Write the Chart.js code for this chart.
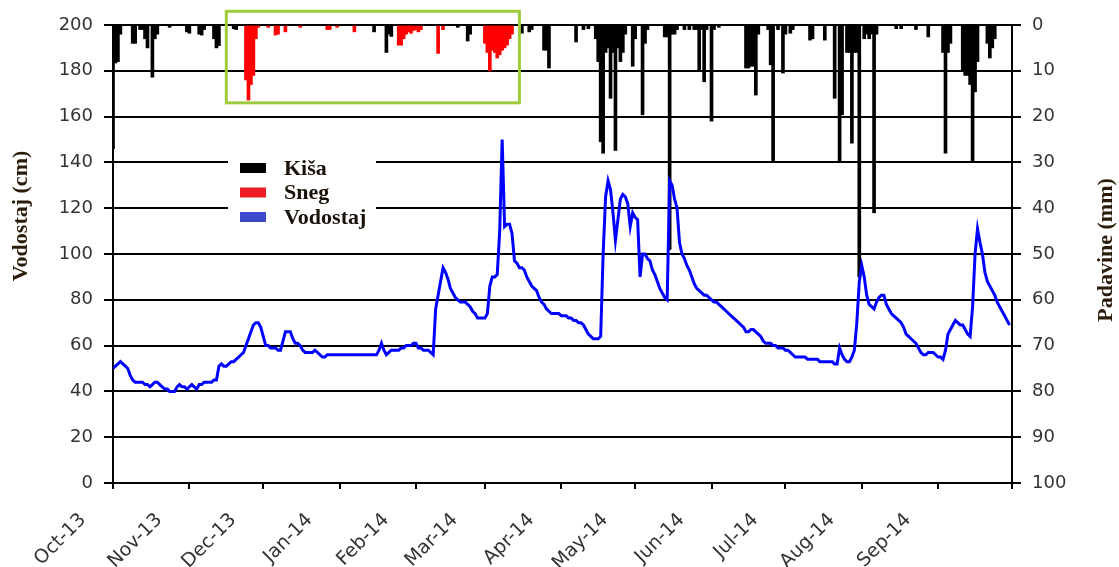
<!DOCTYPE html>
<html>
<head>
<meta charset="utf-8">
<script src="https://cdn.jsdelivr.net/npm/chart.js@4.4.1/dist/chart.umd.min.js"></script>
<style>
  html, body { margin: 0; padding: 0; background: #fff; }
</style>
</head>
<body>
<canvas id="vodostajChart" width="1119" height="567"></canvas>
<script>
// mjeseci (pocetni dan od 1. oktobra 2013)
var monthLabels = ['Oct-13', 'Nov-13', 'Dec-13', 'Jan-14', 'Feb-14', 'Mar-14', 'Apr-14', 'May-14', 'Jun-14', 'Jul-14', 'Aug-14', 'Sep-14'];
var monthStart = [0, 31, 61, 92, 123, 151, 182, 212, 243, 273, 304, 335, 365];

// vodostaj (cm), dnevno od 1.10.2013
var vodostaj = [
  50,51,52,53,52,51,50,47,45,44, 44,44,44,43,43,42,43,44,44,43, 42,41,41,40,40,40,42,43,42,42, 41,
  42,43,42,41,43,43,44,44,44,44, 45,45,51,52,51,51,52,53,53,54, 55,56,57,60,63,66,69,70,70,68,
  64,60,60,59,59,59,58,58,62,66, 66,66,63,61,61,60,58,57,57,57, 57,58,57,56,55,55,56,56,56,56, 56,
  56,56,56,56,56,56,56,56,56,56, 56,56,56,56,56,56,58,61,58,56, 57,58,58,58,58,59,59,60,60,60, 61,
  61,59,59,58,58,58,57,56,76,82, 88,94,92,89,85,83,81,80,79,79, 79,78,77,75,74,72,72,72,
  72,74,86,90,90,91,110,150,112,113, 113,109,97,96,94,94,93,90,88,86, 85,84,81,79,78,76,75,74,74,74, 74,
  73,73,73,72,72,71,71,70,70,69, 67,65,64,63,63,63,64,100,125,132, 128,118,106,115,124,126,125,122,112,118,
  116,115,90,100,100,98,97,93,91,88, 85,83,81,80,132,130,124,120,105,100, 98,95,93,90,87,85,84,83,82,82, 81,
  80,79,79,78,77,76,75,74,73,72, 71,70,69,68,66,66,67,67,66,65, 64,62,61,61,61,60,60,59,59,59,
  58,58,57,56,55,55,55,55,55,54, 54,54,54,54,53,53,53,53,53,53, 52,52,59,56,54,53,53,55,58,70, 88,
  95,90,82,78,77,76,79,81,82,82, 78,76,74,73,72,71,70,68,65,64, 63,62,61,59,57,56,56,57,57,57, 56,
  55,55,54,58,65,67,69,71,70,69, 69,67,65,64,77,100,111,105,100,92, 88,86,84,82,79,77,75,73,71,69
];

// kisa (mm): dan i kolicina
var kisaDan = [0,1,2,3,8,9,11,12,13,14,16,17,18,23,30,31,35,36,37,41,42,43,49,50,
  106,111,112,113,140,144,145,166,169,170,175,176,177,188,191,193,
  196,197,198,199,200,201,202,203,204,205,206,207,208,211,212,215,216,217,
  224,225,226,227,228,229,232,234,236,237,238,239,240,241,243,244,246,
  257,258,259,260,261,262,266,267,268,270,272,273,275,276,283,284,289,
  293,295,296,298,299,300,301,302,303,305,306,307,308,309,310,318,320,326,331,
  337,338,339,340,345,346,347,348,349,350,351,355,356,357,358];
var kisaMm = [27,8.3,8,2,4,4,1,1,3,5,11.4,3,2,0.5,1.5,1.8,2,2.2,1,3,5,4.5,0.8,1,
  1.5,6,2,2.5,0.5,3.5,2,1.8,1.5,1,5.5,5.5,9.4,3.7,1,0.8,
  3,8,25.5,28,6,5,16,6,27.4,5,8,6,2,9,3,19.6,4,1,
  2.6,2.6,49,2,2,1,1,1,1,1,9.8,1,12.4,1,21,1,0.5,
  9.4,9.4,9,9,15.3,2,1,8.7,30,1,10.5,2,1.8,1,3.3,3,3.3,
  16,30,19.6,6,6,25.8,6,6,55,3,2,3,2,41,2,0.8,0.8,1,2.6,
  6,28,6,4,10,11,11,13,30,14.6,8,4,7.2,5,3];

// sneg (mm)
var snegDan = [54,55,56,57,58,59,63,66,67,70,76,87,88,91,98,
  116,117,118,119,120,121,122,123,124,125,132,134,
  151,152,153,154,155,156,157,158,159,160,161,162];
var snegMm = [12,16.4,13,11,3,0.5,0.5,2.2,2,1.5,0.5,1,1,0.5,1.5,
  4.4,4.4,3,2,1.5,1.8,1.2,1,1.5,1,6.2,1,
  4,6,10,5.5,6,7.2,6.5,5.5,5,4.4,3,2];

// oznaceni period (zeleni okvir): dani i mm
var okvirDani = [46, 165];
var okvirMm = [-3, 17];

var legendNames = ['Kiša', 'Sneg', 'Vodostaj'];
var legendColors = ['#000000', '#ee1c24', '#3f48cc'];

function toPoints(xs, ys) {
  return xs.map(function(d, i) { return { x: d, y: ys[i] }; });
}

var tickFont = { family: '"DejaVu Sans"', size: 18 };

var decor = {
  id: 'decor',
  afterDraw: function(chart) {
    var c = chart.ctx, a = chart.chartArea;
    var xs = chart.scales.x, rs = chart.scales.yR;
    c.save();
    // zeleni okvir
    var x1 = xs.getPixelForValue(okvirDani[0]), x2 = xs.getPixelForValue(okvirDani[1]);
    var y1 = rs.getPixelForValue(okvirMm[0]), y2 = rs.getPixelForValue(okvirMm[1]);
    c.strokeStyle = '#9dcb3b';
    c.lineWidth = 3;
    c.strokeRect(x1, y1, x2 - x1, y2 - y1);

    // legenda
    var lx = a.left + 115, ly = a.top + 125;
    c.fillStyle = '#fff';
    c.fillRect(lx, ly, 148, 84);
    c.font = 'bold 22px "Liberation Serif"';
    c.textAlign = 'left';
    c.textBaseline = 'middle';
    legendNames.forEach(function(n, i) {
      var cy = ly + 18 + i * 24.5;
      c.fillStyle = legendColors[i];
      c.fillRect(lx + 12, cy - 5, 26, 10);
      c.fillStyle = '#1a1208';
      c.fillText(n, lx + 56, cy + 1);
    });

    // naslovi osa
    c.font = 'bold 22px "Liberation Serif"';
    c.fillStyle = '#2a1c08';
    c.textAlign = 'center';
    c.save();
    c.translate(21, a.top + 191);
    c.rotate(-Math.PI / 2);
    c.fillText('Vodostaj (cm)', 0, 0);
    c.restore();
    c.save();
    c.translate(1106, a.top + 225);
    c.rotate(-Math.PI / 2);
    c.fillText('Padavine (mm)', 0, 0);
    c.restore();
    c.restore();
  }
};

var ctx = document.getElementById('vodostajChart').getContext('2d');
var vodostajChart = new Chart(ctx, {
  type: 'bar',
  data: {
    datasets: [{
      label: 'Kiša',
      data: toPoints(kisaDan, kisaMm),
      backgroundColor: '#000',
      yAxisID: 'yR',
      grouped: false,
      barThickness: 3,
      order: 2
    }, {
      label: 'Sneg',
      data: toPoints(snegDan, snegMm),
      backgroundColor: '#ff0000',
      yAxisID: 'yR',
      grouped: false,
      barThickness: 3,
      order: 2
    }, {
      type: 'line',
      label: 'Vodostaj',
      data: vodostaj.map(function(v, i) { return { x: i, y: v }; }),
      borderColor: '#0000ff',
      borderWidth: 3,
      pointRadius: 0,
      tension: 0,
      yAxisID: 'yL',
      order: 1
    }]
  },
  options: {
    responsive: false,
    animation: false,
    layout: { padding: { top: 25, left: 0, right: 0, bottom: 0 } },
    plugins: {
      legend: { display: false },
      tooltip: { enabled: false }
    },
    scales: {
      x: {
        type: 'linear',
        min: 0,
        max: 365,
        offset: false,
        afterBuildTicks: function(s) {
          s.ticks = monthStart.map(function(v) { return { value: v }; });
        },
        afterFit: function(s) { s.height = 84; },
        ticks: {
          autoSkip: false,
          minRotation: 45,
          maxRotation: 45,
          padding: 20,
          labelOffset: -30,
          color: '#333',
          font: { family: '"DejaVu Sans"', size: 19 },
          callback: function(v) {
            var i = monthStart.indexOf(v);
            return i >= 0 && i < monthLabels.length ? monthLabels[i] : '';
          }
        },
        grid: { drawOnChartArea: false, offset: false, tickLength: 6, color: '#000', lineWidth: 2 },
        border: { color: '#000', width: 2 }
      },
      yL: {
        position: 'left',
        min: 0,
        max: 200,
        afterFit: function(s) { s.width = 113; },
        ticks: { stepSize: 20, padding: 11, color: '#333', font: tickFont },
        grid: { color: '#000', lineWidth: 2, tickLength: 9 },
        border: { color: '#000', width: 2 }
      },
      yR: {
        position: 'right',
        min: 0,
        max: 100,
        reverse: true,
        afterFit: function(s) { s.width = 107; },
        ticks: { stepSize: 10, padding: 11, color: '#333', font: tickFont },
        grid: { drawOnChartArea: false, color: '#000', lineWidth: 2, tickLength: 9 },
        border: { color: '#000', width: 2 }
      }
    }
  },
  plugins: [decor]
});
</script>
</body>
</html>
